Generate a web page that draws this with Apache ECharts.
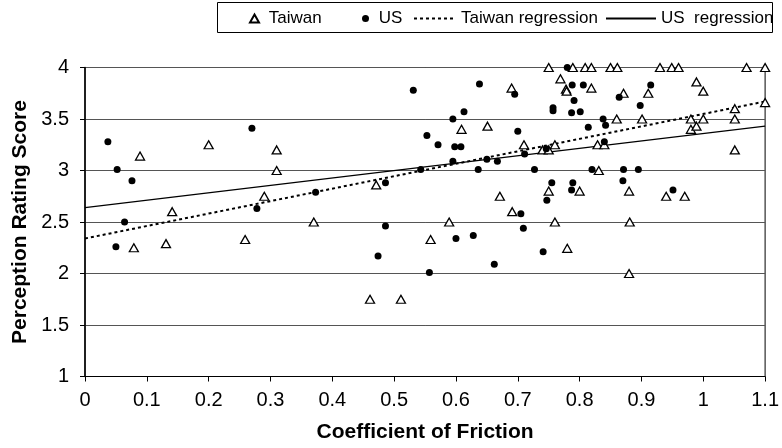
<!DOCTYPE html>
<html>
<head>
<meta charset="utf-8">
<script src="https://cdn.jsdelivr.net/npm/echarts@6/dist/echarts.min.js"></script>
<style>
html, body { margin: 0; padding: 0; background: #fff; }
#chart { width: 782px; height: 448px; }
</style>
</head>
<body>
<div id="chart"></div>
<script>
// values: [coefficient of friction, perception score]
var taiwanPoints = [
    [0.079, 2.25], [0.089, 3.14], [0.131, 2.29], [0.141, 2.60], [0.200, 3.25],
    [0.259, 2.33], [0.290, 2.75], [0.310, 3.20], [0.310, 3.00], [0.370, 2.50],
    [0.461, 1.75], [0.471, 2.86], [0.511, 1.75], [0.559, 2.33], [0.589, 2.50],
    [0.609, 3.40], [0.651, 3.43], [0.671, 2.75], [0.690, 3.80], [0.691, 2.60],
    [0.710, 3.25], [0.740, 3.20], [0.750, 3.20], [0.750, 4.00], [0.750, 2.80],
    [0.760, 3.25], [0.760, 2.50], [0.769, 3.89], [0.778, 3.79], [0.779, 3.77],
    [0.780, 2.245], [0.789, 4.00], [0.800, 2.80], [0.809, 4.00], [0.819, 4.00],
    [0.819, 3.80], [0.829, 3.25], [0.831, 3.00], [0.840, 3.25], [0.850, 4.00],
    [0.861, 4.00], [0.860, 3.50], [0.871, 3.75], [0.880, 2.80], [0.881, 2.50],
    [0.880, 2.00], [0.901, 3.50], [0.911, 3.75], [0.930, 4.00], [0.940, 2.75],
    [0.949, 4.00], [0.960, 4.00], [0.970, 2.75], [0.980, 3.50], [0.980, 3.40],
    [0.989, 3.43], [0.989, 3.86], [1.000, 3.50], [1.000, 3.77], [1.051, 3.60],
    [1.051, 3.50], [1.051, 3.20], [1.070, 4.00], [1.100, 4.00], [1.100, 3.66]
];

var usPoints = [
    [0.037, 3.28], [0.052, 3.01], [0.064, 2.50], [0.076, 2.90], [0.050, 2.26],
    [0.270, 3.41], [0.278, 2.63], [0.373, 2.79], [0.474, 2.17], [0.486, 2.88],
    [0.486, 2.46], [0.531, 3.78], [0.543, 3.01], [0.553, 3.34], [0.557, 2.01],
    [0.571, 3.25], [0.595, 3.50], [0.595, 3.09], [0.598, 3.23], [0.600, 2.34],
    [0.608, 3.23], [0.613, 3.57], [0.628, 2.37], [0.636, 3.01], [0.638, 3.84],
    [0.650, 3.11], [0.662, 2.09], [0.667, 3.09], [0.695, 3.74], [0.700, 3.38],
    [0.705, 2.58], [0.709, 2.44], [0.711, 3.16], [0.727, 3.01], [0.741, 2.21],
    [0.746, 3.21], [0.747, 2.71], [0.755, 2.88], [0.757, 3.61], [0.757, 3.58],
    [0.780, 4.00], [0.787, 3.56], [0.787, 2.81], [0.788, 3.83], [0.789, 2.88],
    [0.791, 3.68], [0.801, 3.57], [0.806, 3.83], [0.814, 3.42], [0.820, 3.01],
    [0.838, 3.50], [0.840, 3.28], [0.842, 3.44], [0.864, 3.71], [0.870, 2.90],
    [0.871, 3.01], [0.895, 3.01], [0.898, 3.63], [0.915, 3.83], [0.951, 2.81]
];

// regression lines, end points at x = 0 and x = 1.1
var taiwanRegression = [[0, 2.34], [1.1, 3.67]];
var usRegression = [[0, 2.64], [1.1, 3.43]];

var xRange = [0, 1.1, 0.1];   // min, max, interval
var yRange = [1, 4, 0.5];

var font = 'Liberation Sans, Arial, Helvetica, sans-serif';
var legendText = { fontSize: 17, fontFamily: font, color: '#000' };

var chart = echarts.init(document.getElementById('chart'));

var option = {
    animation: false,
    backgroundColor: '#fff',
    textStyle: { fontFamily: font, color: '#000' },
    // frame round the legend
    graphic: [{
        type: 'rect',
        z: 0,
        shape: { x: 217.5, y: 2.5, width: 555, height: 30 },
        style: { fill: 'none', stroke: '#000', lineWidth: 1 }
    }],
    legend: [
        { data: ['Taiwan'], left: 249, top: 10, padding: 0, itemWidth: 9, itemHeight: 8,
          formatter: ' {name}', selectedMode: false, textStyle: legendText },
        { data: ['US'], left: 362, top: 10, padding: 0, itemWidth: 7, itemHeight: 7,
          formatter: ' {name}', selectedMode: false, textStyle: legendText },
        // line icons only, hide the marker drawn in their middle
        { data: ['Taiwan regression'], left: 413, top: 10, padding: 0, itemWidth: 42, itemHeight: 8,
          selectedMode: false, textStyle: legendText, itemStyle: { opacity: 0, borderWidth: 0 } },
        { data: ['US  regression'], left: 605, top: 10, padding: 0, itemWidth: 50, itemHeight: 8,
          selectedMode: false, textStyle: legendText, itemStyle: { opacity: 0, borderWidth: 0 } }
    ],
    grid: {
        left: 85, right: 14, top: 67.5, bottom: 67.5,
        show: true, borderColor: '#000', borderWidth: 1, backgroundColor: 'transparent'
    },
    xAxis: {
        type: 'value',
        min: xRange[0], max: xRange[1], interval: xRange[2],
        name: 'Coefficient of Friction',
        nameLocation: 'middle',
        nameGap: 56,
        nameTextStyle: { fontSize: 21, fontWeight: 'bold', fontFamily: font, color: '#000', verticalAlign: 'middle' },
        axisLine: { lineStyle: { color: '#000', width: 1 } },
        axisTick: { show: true, length: 5, lineStyle: { color: '#000' } },
        axisLabel: { fontSize: 20, fontFamily: font, color: '#000', margin: 14 },
        splitLine: { show: false }
    },
    yAxis: {
        type: 'value',
        min: yRange[0], max: yRange[1], interval: yRange[2],
        name: 'Perception Rating Score',
        nameLocation: 'middle',
        nameGap: 64,
        nameRotate: 90,
        nameTextStyle: { fontSize: 21, fontWeight: 'bold', fontFamily: font, color: '#000', verticalAlign: 'middle' },
        axisLine: { show: true, lineStyle: { color: '#000', width: 1.5 } },
        axisTick: { show: true, length: 5, lineStyle: { color: '#000' } },
        axisLabel: { fontSize: 20, fontFamily: font, color: '#000', margin: 16 },
        splitLine: { show: true, lineStyle: { color: '#555', width: 1 } }
    },
    series: [
        {
            name: 'Taiwan',
            type: 'scatter',
            symbol: 'triangle',
            symbolSize: [9, 8],
            itemStyle: { color: '#fff', borderColor: '#000', borderWidth: 1.3, opacity: 1 },
            data: taiwanPoints,
            z: 3
        },
        {
            name: 'US',
            type: 'scatter',
            symbol: 'circle',
            symbolSize: 7,
            itemStyle: { color: '#000', opacity: 1 },
            data: usPoints,
            z: 4
        },
        {
            name: 'Taiwan regression',
            type: 'line',
            symbol: 'none',
            data: taiwanRegression,
            lineStyle: { color: '#000', width: 2, type: [3, 3] },
            itemStyle: { color: '#000' },
            z: 2
        },
        {
            name: 'US  regression',
            type: 'line',
            symbol: 'none',
            data: usRegression,
            lineStyle: { color: '#000', width: 1.2, type: 'solid' },
            itemStyle: { color: '#000' },
            z: 2
        }
    ]
};

chart.setOption(option);
</script>
</body>
</html>
